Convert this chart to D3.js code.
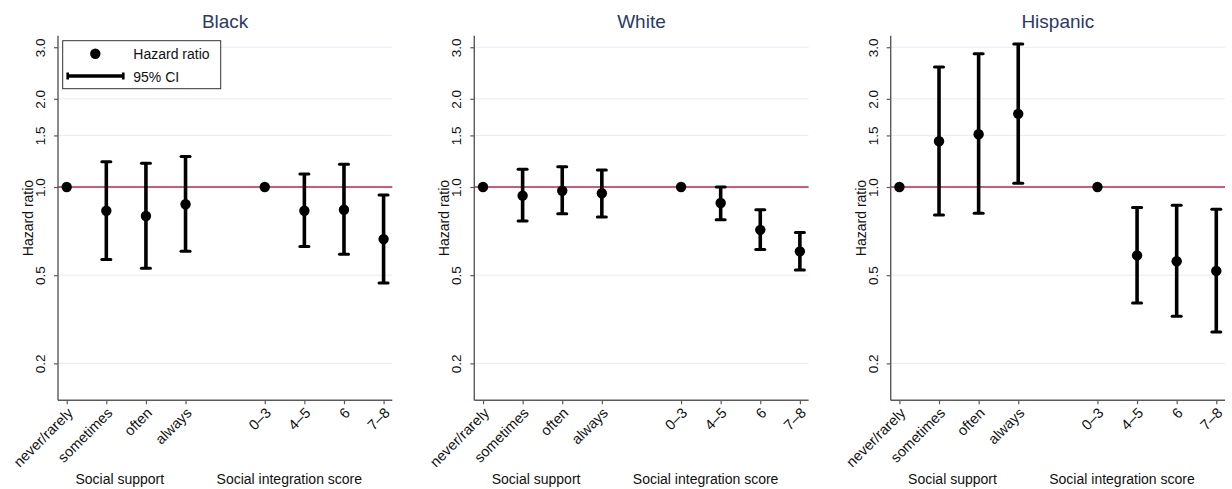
<!DOCTYPE html>
<html>
<head>
<meta charset="utf-8">
<script src="https://cdn.jsdelivr.net/npm/d3@7/dist/d3.min.js"></script>
<style>
  html, body { margin: 0; padding: 0; background: #fff; }
  svg { display: block; font-family: "Liberation Sans", Arial, Helvetica, sans-serif; }
  svg text { font-family: "Liberation Sans", Arial, Helvetica, sans-serif; }
</style>
</head>
<body>
<svg id="chart" width="1232" height="489"></svg>
<script>
// ---- data ----
const categories = ["never/rarely", "sometimes", "often", "always", "0–3", "4–5", "6", "7–8"];
const positions = [1, 2, 3, 4, 6, 7, 8, 9];
const groupLabels = ["Social support", "Social integration score"];
const panelTitles = ["Black", "White", "Hispanic"];

const blackHR = [1, 0.83, 0.796, 0.873, 1, 0.83, 0.836, 0.664];
const blackLo = [null, 0.566, 0.528, 0.603, null, 0.627, 0.589, 0.47];
const blackHi = [null, 1.22, 1.205, 1.27, null, 1.108, 1.195, 0.939];

const whiteHR = [1, 0.934, 0.971, 0.952, 1, 0.882, 0.714, 0.603];
const whiteLo = [null, 0.765, 0.81, 0.79, null, 0.773, 0.612, 0.521];
const whiteHi = [null, 1.149, 1.173, 1.143, null, 1.0, 0.836, 0.70];

const hispHR = [1, 1.433, 1.514, 1.777, 1, 0.584, 0.558, 0.517];
const hispLo = [null, 0.802, 0.813, 1.03, null, 0.402, 0.362, 0.32];
const hispHi = [null, 2.566, 2.85, 3.08, null, 0.852, 0.866, 0.839];

const yTickValues = [0.25, 0.5, 1, 1.5, 2, 3];
const yTickLabels = ["0.2", "0.5", "1.0", "1.5", "2.0", "3.0"];
const refValue = 1;

const panels = [
  { title: panelTitles[0], hr: blackHR, lo: blackLo, hi: blackHi },
  { title: panelTitles[1], hr: whiteHR, lo: whiteLo, hi: whiteHi },
  { title: panelTitles[2], hr: hispHR, lo: hispLo, hi: hispHi }
];

// ---- layout ----
const FONT = '"Liberation Sans", Arial, Helvetica, sans-serif';
const panelLeft = [58, 474.3, 890.7];
const plotW = 334.3;
const plotTop = 35.7, plotBottom = 400.3;
const groupLabelPos = [2.34, 6.62];

const svg = d3.select("#chart");

const x = d3.scaleLinear().domain([0.78, 9.22]).range([0, plotW]);
const y = d3.scaleLog().domain([0.187, 3.285]).range([plotBottom, plotTop]);

const axisColor = "#5a5a5a";
const gridColor = "#e4edf0";
const refColor = "#cc5a7c";
const titleColor = "#2a3a68";
const textColor = "#111";

panels.forEach((p, pi) => {
  const g = svg.append("g").attr("transform", `translate(${panelLeft[pi]},0)`);

  // gridlines
  g.selectAll("line.grid").data(yTickValues).enter().append("line")
    .attr("x1", 0).attr("x2", plotW)
    .attr("y1", d => y(d)).attr("y2", d => y(d))
    .attr("stroke", gridColor).attr("stroke-width", 1);

  // reference line
  g.append("line")
    .attr("x1", 0).attr("x2", plotW)
    .attr("y1", y(refValue)).attr("y2", y(refValue))
    .attr("stroke", refColor).attr("stroke-width", 2);

  // y axis
  const yAxis = d3.axisLeft(y).tickValues(yTickValues)
    .tickFormat((d, i) => yTickLabels[i]).tickSize(4).tickSizeOuter(0);
  const ya = g.append("g").call(yAxis).attr("font-family", FONT);
  ya.select(".domain").remove();
  ya.selectAll(".tick line").attr("stroke", axisColor).attr("stroke-width", 1.2);
  ya.selectAll(".tick text")
    .attr("x", null).attr("dy", null)
    .attr("transform", "translate(-13,0) rotate(-90)")
    .attr("text-anchor", "middle")
    .attr("fill", textColor)
    .style("font-size", "13.5px");
  g.append("line").attr("x1", 0).attr("x2", 0).attr("y1", plotTop).attr("y2", plotBottom)
    .attr("stroke", axisColor).attr("stroke-width", 1.4);

  // x axis
  const xAxis = d3.axisBottom(x).tickValues(positions)
    .tickFormat((d, i) => categories[i]).tickSize(4).tickSizeOuter(0);
  const xa = g.append("g").attr("transform", `translate(0,${plotBottom})`).call(xAxis).attr("font-family", FONT);
  xa.select(".domain").remove();
  xa.selectAll(".tick line").attr("stroke", axisColor).attr("stroke-width", 1.2);
  xa.selectAll(".tick text")
    .attr("y", null).attr("dy", null)
    .attr("transform", "translate(3,10) rotate(-45)")
    .attr("dy", "0.35em")
    .attr("text-anchor", "end")
    .attr("fill", textColor)
    .style("font-size", "14.5px");
  g.append("line").attr("x1", 0).attr("x2", plotW).attr("y1", plotBottom).attr("y2", plotBottom)
    .attr("stroke", axisColor).attr("stroke-width", 1.4);

  // y axis title
  g.append("text")
    .attr("transform", `translate(-25,${(plotTop + plotBottom) / 2}) rotate(-90)`)
    .attr("text-anchor", "middle")
    .attr("fill", textColor)
    .style("font-size", "14px")
    .text("Hazard ratio");

  // group labels
  g.selectAll("text.grp").data(groupLabels).enter().append("text")
    .attr("x", (d, i) => x(groupLabelPos[i]))
    .attr("y", 483.5)
    .attr("text-anchor", "middle")
    .attr("fill", textColor)
    .style("font-size", "14px")
    .text(d => d);

  // panel title
  g.append("text")
    .attr("x", plotW / 2).attr("y", 27.5)
    .attr("text-anchor", "middle")
    .attr("fill", titleColor)
    .style("font-size", "19px")
    .text(p.title);

  // CI bars
  const ciData = positions.map((pos, i) => ({ pos, lo: p.lo[i], hi: p.hi[i] })).filter(d => d.lo != null);
  const ci = g.selectAll("g.ci").data(ciData).enter().append("g");
  ci.append("line")
    .attr("x1", d => x(d.pos)).attr("x2", d => x(d.pos))
    .attr("y1", d => y(d.lo)).attr("y2", d => y(d.hi))
    .attr("stroke", "#000").attr("stroke-width", 3.6);
  ["lo", "hi"].forEach(k => {
    ci.append("line")
      .attr("x1", d => x(d.pos) - 4.5).attr("x2", d => x(d.pos) + 4.5)
      .attr("y1", d => y(d[k])).attr("y2", d => y(d[k]))
      .attr("stroke", "#000").attr("stroke-width", 3)
      .attr("stroke-linecap", "round");
  });

  // points
  g.selectAll("circle.pt").data(positions.map((pos, i) => ({ pos, hr: p.hr[i] }))).enter().append("circle")
    .attr("cx", d => x(d.pos)).attr("cy", d => y(d.hr))
    .attr("r", 5.2).attr("fill", "#000");

  // legend (first panel only)
  if (pi === 0) {
    const lg = g.append("g");
    lg.append("rect").attr("x", 4.7).attr("y", 40.7).attr("width", 158).attr("height", 48)
      .attr("fill", "#fff").attr("stroke", "#333").attr("stroke-width", 1);
    lg.append("circle").attr("cx", 37.3).attr("cy", 53.7).attr("r", 5.2).attr("fill", "#000");
    lg.append("line").attr("x1", 9.7).attr("x2", 65.3).attr("y1", 76).attr("y2", 76)
      .attr("stroke", "#000").attr("stroke-width", 3.4);
    [9.7, 65.3].forEach(xx => {
      lg.append("line").attr("x1", xx).attr("x2", xx).attr("y1", 72.5).attr("y2", 79.5)
        .attr("stroke", "#000").attr("stroke-width", 2.6);
    });
    lg.append("text").attr("x", 75.3).attr("y", 59.3).attr("fill", textColor)
      .style("font-size", "14px").text("Hazard ratio");
    lg.append("text").attr("x", 75.3).attr("y", 81.7).attr("fill", textColor)
      .style("font-size", "14px").text("95% CI");
  }
});
</script>
</body>
</html>
